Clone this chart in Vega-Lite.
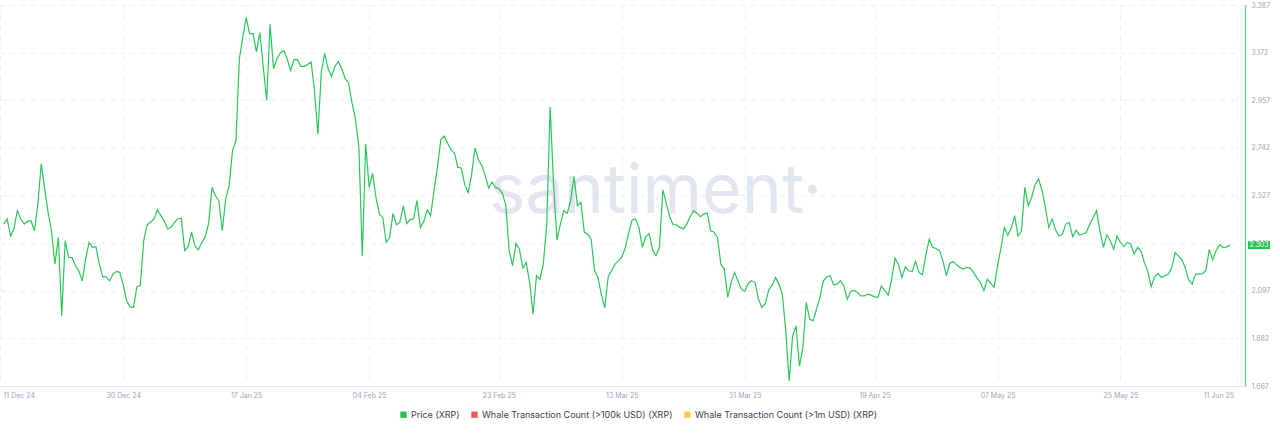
{
"$schema":"https://vega.github.io/schema/vega-lite/v6.json",
"width":1245,"height":381,
"autosize":{"type":"none"},
"padding":{"left":0,"top":5,"right":35,"bottom":47},
"background":"white",
"config":{"view":{"stroke":null},"font":"Inter"},
"datasets":{
"price":[
{"t":"2024-12-12T12:00Z","v":2.398},
{"t":"2024-12-13T00:00Z","v":2.421},{"t":"2024-12-13T12:00Z","v":2.345},
{"t":"2024-12-14T00:00Z","v":2.376},{"t":"2024-12-14T12:00Z","v":2.459},
{"t":"2024-12-15T00:00Z","v":2.421},{"t":"2024-12-15T12:00Z","v":2.398},
{"t":"2024-12-16T00:00Z","v":2.410},{"t":"2024-12-16T12:00Z","v":2.413},
{"t":"2024-12-17T00:00Z","v":2.368},{"t":"2024-12-17T12:00Z","v":2.489},
{"t":"2024-12-18T00:00Z","v":2.670},{"t":"2024-12-18T12:00Z","v":2.556},
{"t":"2024-12-19T00:00Z","v":2.451},{"t":"2024-12-19T12:00Z","v":2.368},
{"t":"2024-12-20T00:00Z","v":2.217},{"t":"2024-12-20T12:00Z","v":2.338},
{"t":"2024-12-21T00:00Z","v":1.984},{"t":"2024-12-21T12:00Z","v":2.323},
{"t":"2024-12-22T00:00Z","v":2.247},{"t":"2024-12-22T12:00Z","v":2.247},
{"t":"2024-12-23T00:00Z","v":2.210},{"t":"2024-12-23T12:00Z","v":2.187},
{"t":"2024-12-24T00:00Z","v":2.142},{"t":"2024-12-24T12:00Z","v":2.240},
{"t":"2024-12-25T00:00Z","v":2.315},{"t":"2024-12-25T12:00Z","v":2.293},
{"t":"2024-12-26T00:00Z","v":2.296},{"t":"2024-12-26T12:00Z","v":2.217},
{"t":"2024-12-27T00:00Z","v":2.160},{"t":"2024-12-27T12:00Z","v":2.160},
{"t":"2024-12-28T00:00Z","v":2.142},{"t":"2024-12-28T12:00Z","v":2.172},
{"t":"2024-12-29T00:00Z","v":2.184},{"t":"2024-12-29T12:00Z","v":2.180},
{"t":"2024-12-30T00:00Z","v":2.124},{"t":"2024-12-30T12:00Z","v":2.051},
{"t":"2024-12-31T00:00Z","v":2.024},{"t":"2024-12-31T12:00Z","v":2.021},
{"t":"2025-01-01T00:00Z","v":2.115},{"t":"2025-01-01T12:00Z","v":2.119},
{"t":"2025-01-02T00:00Z","v":2.323},{"t":"2025-01-02T12:00Z","v":2.395},
{"t":"2025-01-03T00:00Z","v":2.406},{"t":"2025-01-03T12:00Z","v":2.421},
{"t":"2025-01-04T00:00Z","v":2.463},{"t":"2025-01-04T12:00Z","v":2.436},
{"t":"2025-01-05T00:00Z","v":2.413},{"t":"2025-01-05T12:00Z","v":2.376},
{"t":"2025-01-06T00:00Z","v":2.383},{"t":"2025-01-06T12:00Z","v":2.406},
{"t":"2025-01-07T00:00Z","v":2.422},{"t":"2025-01-07T12:00Z","v":2.425},
{"t":"2025-01-08T00:00Z","v":2.278},{"t":"2025-01-08T12:00Z","v":2.296},
{"t":"2025-01-09T00:00Z","v":2.361},{"t":"2025-01-09T12:00Z","v":2.300},
{"t":"2025-01-10T00:00Z","v":2.281},{"t":"2025-01-10T12:00Z","v":2.315},
{"t":"2025-01-11T00:00Z","v":2.340},{"t":"2025-01-11T12:00Z","v":2.400},
{"t":"2025-01-12T00:00Z","v":2.564},{"t":"2025-01-12T12:00Z","v":2.526},
{"t":"2025-01-13T00:00Z","v":2.504},{"t":"2025-01-13T12:00Z","v":2.368},
{"t":"2025-01-14T00:00Z","v":2.511},{"t":"2025-01-14T12:00Z","v":2.572},
{"t":"2025-01-15T00:00Z","v":2.730},{"t":"2025-01-15T12:00Z","v":2.775},
{"t":"2025-01-16T00:00Z","v":3.144},{"t":"2025-01-16T12:00Z","v":3.242},
{"t":"2025-01-17T00:00Z","v":3.330},{"t":"2025-01-17T12:00Z","v":3.258},
{"t":"2025-01-18T00:00Z","v":3.258},{"t":"2025-01-18T12:00Z","v":3.175},
{"t":"2025-01-19T00:00Z","v":3.262},{"t":"2025-01-19T12:00Z","v":3.107},
{"t":"2025-01-20T00:00Z","v":2.956},{"t":"2025-01-20T12:00Z","v":3.300},
{"t":"2025-01-21T00:00Z","v":3.099},{"t":"2025-01-21T12:00Z","v":3.144},
{"t":"2025-01-22T00:00Z","v":3.170},{"t":"2025-01-22T12:00Z","v":3.182},
{"t":"2025-01-23T00:00Z","v":3.144},{"t":"2025-01-23T12:00Z","v":3.092},
{"t":"2025-01-24T00:00Z","v":3.140},{"t":"2025-01-24T12:00Z","v":3.140},
{"t":"2025-01-25T00:00Z","v":3.110},{"t":"2025-01-25T12:00Z","v":3.110},
{"t":"2025-01-26T00:00Z","v":3.119},{"t":"2025-01-26T12:00Z","v":3.129},
{"t":"2025-01-27T00:00Z","v":3.001},{"t":"2025-01-27T12:00Z","v":2.805},
{"t":"2025-01-28T00:00Z","v":3.084},{"t":"2025-01-28T12:00Z","v":3.167},
{"t":"2025-01-29T00:00Z","v":3.099},{"t":"2025-01-29T12:00Z","v":3.065},
{"t":"2025-01-30T00:00Z","v":3.110},{"t":"2025-01-30T12:00Z","v":3.132},
{"t":"2025-01-31T00:00Z","v":3.099},{"t":"2025-01-31T12:00Z","v":3.054},
{"t":"2025-02-01T00:00Z","v":3.034},{"t":"2025-02-01T12:00Z","v":2.944},
{"t":"2025-02-02T00:00Z","v":2.873},{"t":"2025-02-02T12:00Z","v":2.745},
{"t":"2025-02-03T00:00Z","v":2.255},{"t":"2025-02-03T12:00Z","v":2.760},
{"t":"2025-02-04T00:00Z","v":2.564},{"t":"2025-02-04T12:00Z","v":2.627},
{"t":"2025-02-05T00:00Z","v":2.519},{"t":"2025-02-05T12:00Z","v":2.443},
{"t":"2025-02-06T00:00Z","v":2.428},{"t":"2025-02-06T12:00Z","v":2.315},
{"t":"2025-02-07T00:00Z","v":2.338},{"t":"2025-02-07T12:00Z","v":2.446},
{"t":"2025-02-08T00:00Z","v":2.395},{"t":"2025-02-08T12:00Z","v":2.406},
{"t":"2025-02-09T00:00Z","v":2.480},{"t":"2025-02-09T12:00Z","v":2.400},
{"t":"2025-02-10T00:00Z","v":2.418},{"t":"2025-02-10T12:00Z","v":2.421},
{"t":"2025-02-11T00:00Z","v":2.504},{"t":"2025-02-11T12:00Z","v":2.383},
{"t":"2025-02-12T00:00Z","v":2.410},{"t":"2025-02-12T12:00Z","v":2.462},
{"t":"2025-02-13T00:00Z","v":2.436},{"t":"2025-02-13T12:00Z","v":2.549},
{"t":"2025-02-14T00:00Z","v":2.654},{"t":"2025-02-14T12:00Z","v":2.780},
{"t":"2025-02-15T00:00Z","v":2.795},{"t":"2025-02-15T12:00Z","v":2.763},
{"t":"2025-02-16T00:00Z","v":2.733},{"t":"2025-02-16T12:00Z","v":2.718},
{"t":"2025-02-17T00:00Z","v":2.654},{"t":"2025-02-17T12:00Z","v":2.651},
{"t":"2025-02-18T00:00Z","v":2.576},{"t":"2025-02-18T12:00Z","v":2.541},
{"t":"2025-02-19T00:00Z","v":2.621},{"t":"2025-02-19T12:00Z","v":2.742},
{"t":"2025-02-20T00:00Z","v":2.688},{"t":"2025-02-20T12:00Z","v":2.662},
{"t":"2025-02-21T00:00Z","v":2.617},{"t":"2025-02-21T12:00Z","v":2.561},
{"t":"2025-02-22T00:00Z","v":2.587},{"t":"2025-02-22T12:00Z","v":2.564},
{"t":"2025-02-23T00:00Z","v":2.557},{"t":"2025-02-23T12:00Z","v":2.537},
{"t":"2025-02-24T00:00Z","v":2.486},{"t":"2025-02-24T12:00Z","v":2.278},
{"t":"2025-02-25T00:00Z","v":2.210},{"t":"2025-02-25T12:00Z","v":2.311},
{"t":"2025-02-26T00:00Z","v":2.285},{"t":"2025-02-26T12:00Z","v":2.199},
{"t":"2025-02-27T00:00Z","v":2.225},{"t":"2025-02-27T12:00Z","v":2.134},
{"t":"2025-02-28T00:00Z","v":1.991},{"t":"2025-02-28T12:00Z","v":2.165},
{"t":"2025-03-01T00:00Z","v":2.149},{"t":"2025-03-01T12:00Z","v":2.217},
{"t":"2025-03-02T00:00Z","v":2.398},{"t":"2025-03-02T12:00Z","v":2.926},
{"t":"2025-03-03T00:00Z","v":2.579},{"t":"2025-03-03T12:00Z","v":2.326},
{"t":"2025-03-04T00:00Z","v":2.398},{"t":"2025-03-04T12:00Z","v":2.459},
{"t":"2025-03-05T00:00Z","v":2.446},{"t":"2025-03-05T12:00Z","v":2.504},
{"t":"2025-03-06T00:00Z","v":2.612},{"t":"2025-03-06T12:00Z","v":2.481},
{"t":"2025-03-07T00:00Z","v":2.496},{"t":"2025-03-07T12:00Z","v":2.361},
{"t":"2025-03-08T00:00Z","v":2.353},{"t":"2025-03-08T12:00Z","v":2.330},
{"t":"2025-03-09T00:00Z","v":2.187},{"t":"2025-03-09T12:00Z","v":2.157},
{"t":"2025-03-10T00:00Z","v":2.080},{"t":"2025-03-10T12:00Z","v":2.020},
{"t":"2025-03-11T00:00Z","v":2.160},{"t":"2025-03-11T12:00Z","v":2.187},
{"t":"2025-03-12T00:00Z","v":2.217},{"t":"2025-03-12T12:00Z","v":2.232},
{"t":"2025-03-13T00:00Z","v":2.250},{"t":"2025-03-13T12:00Z","v":2.290},
{"t":"2025-03-14T00:00Z","v":2.359},{"t":"2025-03-14T12:00Z","v":2.416},
{"t":"2025-03-15T00:00Z","v":2.421},{"t":"2025-03-15T12:00Z","v":2.383},
{"t":"2025-03-16T00:00Z","v":2.293},{"t":"2025-03-16T12:00Z","v":2.341},
{"t":"2025-03-17T00:00Z","v":2.356},{"t":"2025-03-17T12:00Z","v":2.281},
{"t":"2025-03-18T00:00Z","v":2.255},{"t":"2025-03-18T12:00Z","v":2.293},
{"t":"2025-03-19T00:00Z","v":2.552},{"t":"2025-03-19T12:00Z","v":2.493},
{"t":"2025-03-20T00:00Z","v":2.431},{"t":"2025-03-20T12:00Z","v":2.395},
{"t":"2025-03-21T00:00Z","v":2.395},{"t":"2025-03-21T12:00Z","v":2.383},
{"t":"2025-03-22T00:00Z","v":2.376},{"t":"2025-03-22T12:00Z","v":2.398},
{"t":"2025-03-23T00:00Z","v":2.431},{"t":"2025-03-23T12:00Z","v":2.459},
{"t":"2025-03-24T00:00Z","v":2.446},{"t":"2025-03-24T12:00Z","v":2.431},
{"t":"2025-03-25T00:00Z","v":2.443},{"t":"2025-03-25T12:00Z","v":2.448},
{"t":"2025-03-26T00:00Z","v":2.368},{"t":"2025-03-26T12:00Z","v":2.361},
{"t":"2025-03-27T00:00Z","v":2.338},{"t":"2025-03-27T12:00Z","v":2.217},
{"t":"2025-03-28T00:00Z","v":2.195},{"t":"2025-03-28T12:00Z","v":2.067},
{"t":"2025-03-29T00:00Z","v":2.134},{"t":"2025-03-29T12:00Z","v":2.180},
{"t":"2025-03-30T00:00Z","v":2.142},{"t":"2025-03-30T12:00Z","v":2.104},
{"t":"2025-03-31T00:00Z","v":2.094},{"t":"2025-03-31T12:00Z","v":2.130},
{"t":"2025-04-01T00:00Z","v":2.142},{"t":"2025-04-01T12:00Z","v":2.134},
{"t":"2025-04-02T00:00Z","v":2.059},{"t":"2025-04-02T12:00Z","v":2.021},
{"t":"2025-04-03T00:00Z","v":2.039},{"t":"2025-04-03T12:00Z","v":2.100},
{"t":"2025-04-04T00:00Z","v":2.122},{"t":"2025-04-04T12:00Z","v":2.157},
{"t":"2025-04-05T00:00Z","v":2.127},{"t":"2025-04-05T12:00Z","v":2.079},
{"t":"2025-04-06T00:00Z","v":1.916},{"t":"2025-04-06T12:00Z","v":1.690},
{"t":"2025-04-07T00:00Z","v":1.893},{"t":"2025-04-07T12:00Z","v":1.938},
{"t":"2025-04-08T00:00Z","v":1.757},{"t":"2025-04-08T12:00Z","v":1.840},
{"t":"2025-04-09T00:00Z","v":2.044},{"t":"2025-04-09T12:00Z","v":1.969},
{"t":"2025-04-10T00:00Z","v":1.961},{"t":"2025-04-10T12:00Z","v":2.014},
{"t":"2025-04-11T00:00Z","v":2.067},{"t":"2025-04-11T12:00Z","v":2.142},
{"t":"2025-04-12T00:00Z","v":2.160},{"t":"2025-04-12T12:00Z","v":2.165},
{"t":"2025-04-13T00:00Z","v":2.124},{"t":"2025-04-13T12:00Z","v":2.127},
{"t":"2025-04-14T00:00Z","v":2.142},{"t":"2025-04-14T12:00Z","v":2.119},
{"t":"2025-04-15T00:00Z","v":2.059},{"t":"2025-04-15T12:00Z","v":2.094},
{"t":"2025-04-16T00:00Z","v":2.100},{"t":"2025-04-16T12:00Z","v":2.089},
{"t":"2025-04-17T00:00Z","v":2.074},{"t":"2025-04-17T12:00Z","v":2.074},
{"t":"2025-04-18T00:00Z","v":2.082},{"t":"2025-04-18T12:00Z","v":2.077},
{"t":"2025-04-19T00:00Z","v":2.069},{"t":"2025-04-19T12:00Z","v":2.067},
{"t":"2025-04-20T00:00Z","v":2.119},{"t":"2025-04-20T12:00Z","v":2.097},
{"t":"2025-04-21T00:00Z","v":2.077},{"t":"2025-04-21T12:00Z","v":2.149},
{"t":"2025-04-22T00:00Z","v":2.244},{"t":"2025-04-22T12:00Z","v":2.214},
{"t":"2025-04-23T00:00Z","v":2.157},{"t":"2025-04-23T12:00Z","v":2.205},
{"t":"2025-04-24T00:00Z","v":2.187},{"t":"2025-04-24T12:00Z","v":2.184},
{"t":"2025-04-25T00:00Z","v":2.229},{"t":"2025-04-25T12:00Z","v":2.180},
{"t":"2025-04-26T00:00Z","v":2.168},{"t":"2025-04-26T12:00Z","v":2.258},
{"t":"2025-04-27T00:00Z","v":2.330},{"t":"2025-04-27T12:00Z","v":2.293},
{"t":"2025-04-28T00:00Z","v":2.288},{"t":"2025-04-28T12:00Z","v":2.278},
{"t":"2025-04-29T00:00Z","v":2.232},{"t":"2025-04-29T12:00Z","v":2.165},
{"t":"2025-04-30T00:00Z","v":2.220},{"t":"2025-04-30T12:00Z","v":2.229},
{"t":"2025-05-01T00:00Z","v":2.214},{"t":"2025-05-01T12:00Z","v":2.202},
{"t":"2025-05-02T00:00Z","v":2.195},{"t":"2025-05-02T12:00Z","v":2.202},
{"t":"2025-05-03T00:00Z","v":2.199},{"t":"2025-05-03T12:00Z","v":2.180},
{"t":"2025-05-04T00:00Z","v":2.154},{"t":"2025-05-04T12:00Z","v":2.134},
{"t":"2025-05-05T00:00Z","v":2.097},{"t":"2025-05-05T12:00Z","v":2.149},
{"t":"2025-05-06T00:00Z","v":2.130},{"t":"2025-05-06T12:00Z","v":2.112},
{"t":"2025-05-07T00:00Z","v":2.210},{"t":"2025-05-07T12:00Z","v":2.290},
{"t":"2025-05-08T00:00Z","v":2.383},{"t":"2025-05-08T12:00Z","v":2.347},
{"t":"2025-05-09T00:00Z","v":2.379},{"t":"2025-05-09T12:00Z","v":2.436},
{"t":"2025-05-10T00:00Z","v":2.345},{"t":"2025-05-10T12:00Z","v":2.365},
{"t":"2025-05-11T00:00Z","v":2.564},{"t":"2025-05-11T12:00Z","v":2.481},
{"t":"2025-05-12T00:00Z","v":2.519},{"t":"2025-05-12T12:00Z","v":2.576},
{"t":"2025-05-13T00:00Z","v":2.602},{"t":"2025-05-13T12:00Z","v":2.552},
{"t":"2025-05-14T00:00Z","v":2.474},{"t":"2025-05-14T12:00Z","v":2.383},
{"t":"2025-05-15T00:00Z","v":2.421},{"t":"2025-05-15T12:00Z","v":2.371},
{"t":"2025-05-16T00:00Z","v":2.343},{"t":"2025-05-16T12:00Z","v":2.353},
{"t":"2025-05-17T00:00Z","v":2.398},{"t":"2025-05-17T12:00Z","v":2.406},
{"t":"2025-05-18T00:00Z","v":2.341},{"t":"2025-05-18T12:00Z","v":2.371},
{"t":"2025-05-19T00:00Z","v":2.348},{"t":"2025-05-19T12:00Z","v":2.353},
{"t":"2025-05-20T00:00Z","v":2.360},{"t":"2025-05-20T12:00Z","v":2.398},
{"t":"2025-05-21T00:00Z","v":2.428},{"t":"2025-05-21T12:00Z","v":2.459},
{"t":"2025-05-22T00:00Z","v":2.365},{"t":"2025-05-22T12:00Z","v":2.293},
{"t":"2025-05-23T00:00Z","v":2.350},{"t":"2025-05-23T12:00Z","v":2.323},
{"t":"2025-05-24T00:00Z","v":2.285},{"t":"2025-05-24T12:00Z","v":2.343},
{"t":"2025-05-25T00:00Z","v":2.315},{"t":"2025-05-25T12:00Z","v":2.296},
{"t":"2025-05-26T00:00Z","v":2.315},{"t":"2025-05-26T12:00Z","v":2.308},
{"t":"2025-05-27T00:00Z","v":2.262},{"t":"2025-05-27T12:00Z","v":2.293},
{"t":"2025-05-28T00:00Z","v":2.275},{"t":"2025-05-28T12:00Z","v":2.225},
{"t":"2025-05-29T00:00Z","v":2.183},{"t":"2025-05-29T12:00Z","v":2.115},
{"t":"2025-05-30T00:00Z","v":2.160},{"t":"2025-05-30T12:00Z","v":2.175},
{"t":"2025-05-31T00:00Z","v":2.157},{"t":"2025-05-31T12:00Z","v":2.165},
{"t":"2025-06-01T00:00Z","v":2.172},{"t":"2025-06-01T12:00Z","v":2.199},
{"t":"2025-06-02T00:00Z","v":2.269},{"t":"2025-06-02T12:00Z","v":2.253},
{"t":"2025-06-03T00:00Z","v":2.238},{"t":"2025-06-03T12:00Z","v":2.199},
{"t":"2025-06-04T00:00Z","v":2.145},{"t":"2025-06-04T12:00Z","v":2.127},
{"t":"2025-06-05T00:00Z","v":2.172},{"t":"2025-06-05T12:00Z","v":2.172},
{"t":"2025-06-06T00:00Z","v":2.174},{"t":"2025-06-06T12:00Z","v":2.187},
{"t":"2025-06-07T00:00Z","v":2.284},{"t":"2025-06-07T12:00Z","v":2.237},
{"t":"2025-06-08T00:00Z","v":2.278},{"t":"2025-06-08T12:00Z","v":2.305},
{"t":"2025-06-09T00:00Z","v":2.293},{"t":"2025-06-09T12:00Z","v":2.294},
{"t":"2025-06-10T00:00Z","v":2.303}
],
"last":[{"v":2.303}],
"mark":[{"label":"santiment·"}]
},
"layer":[
{
"data":{"name":"mark"},
"mark":{"type":"text","fontSize":68,"color":"#e3e5f0","align":"center","baseline":"alphabetic","font":"Inter"},
"encoding":{
"x":{"datum":{"year":2025,"month":3,"date":18,"utc":true},"type":"temporal"},
"y":{"datum":2.449,"type":"quantitative"},
"text":{"field":"label"}
}
},
{
"data":{"name":"price"},
"mark":{"type":"line","color":"#2bc75a","strokeWidth":1.2,"interpolate":"linear"},
"encoding":{
"x":{"field":"t","type":"temporal",
"scale":{"type":"utc","domain":[{"year":2024,"month":12,"date":11,"hours":23,"utc":true},{"year":2025,"month":6,"date":12,"hours":5,"minutes":30,"utc":true}]},
"axis":{"title":null,"labelExpr":"utcFormat(datum.value, '%d %b %y')",
"values":[{"year":2024,"month":12,"date":11,"hours":23,"utc":true},{"year":2024,"month":12,"date":30,"utc":true},{"year":2025,"month":1,"date":17,"utc":true},{"year":2025,"month":2,"date":4,"utc":true},{"year":2025,"month":2,"date":23,"utc":true},{"year":2025,"month":3,"date":13,"utc":true},{"year":2025,"month":3,"date":31,"utc":true},{"year":2025,"month":4,"date":19,"utc":true},{"year":2025,"month":5,"date":7,"utc":true},{"year":2025,"month":5,"date":25,"utc":true},{"year":2025,"month":6,"date":11,"utc":true}],
"grid":true,"gridDash":[5,5],"gridColor":"#eceef5","gridWidth":1,
"domain":true,"domainColor":"#e3e5ee","ticks":false,
"labelColor":"#9ea3bd","labelFontSize":7,"labelPadding":5,"labelFont":"Inter",
"labelFlush":15,"labelFlushOffset":-3,"labelOverlap":false}
},
"y":{"field":"v","type":"quantitative",
"scale":{"domain":[1.667,3.387],"zero":false,"nice":false},
"axis":{"title":null,"orient":"right","values":[1.667,1.882,2.097,2.312,2.527,2.742,2.957,3.172,3.387],"format":".3f",
"grid":true,"gridDash":[5,5],"gridColor":"#eceef5","gridWidth":1,
"domain":true,"domainColor":"#5ad77c","domainWidth":1.2,"ticks":false,
"labelColor":"#9ea3bd","labelFontSize":7,"labelPadding":6,"labelFont":"Inter","labelBaseline":"middle"}
}
}
},
{
"data":{"name":"last"},
"mark":{"type":"point","filled":true,"opacity":1,"shape":"M-1,-0.36H1V0.36H-1Z","size":484,"xOffset":14,"strokeWidth":0},
"encoding":{
"x":{"datum":{"year":2025,"month":6,"date":12,"hours":5,"minutes":30,"utc":true},"type":"temporal"},
"y":{"field":"v","type":"quantitative"},
"color":{"datum":"Price (XRP)","type":"nominal",
"scale":{"domain":["Price (XRP)","Whale Transaction Count (>100k USD) (XRP)","Whale Transaction Count (>1m USD) (XRP)"],"range":["#26c24f","#f25757","#ffc940"]},
"legend":{"title":null,"orient":"none","legendX":399,"legendY":405,"direction":"horizontal","symbolType":"square","symbolSize":40,"symbolStrokeWidth":0,"labelFontSize":9,"labelColor":"#3d4052","labelFont":"Inter","labelOffset":3,"columnPadding":10,"labelLimit":400}
}
}
},
{
"data":{"name":"last"},
"mark":{"type":"text","color":"white","fontSize":7,"dx":14,"align":"center","baseline":"middle","font":"Inter"},
"encoding":{
"x":{"datum":{"year":2025,"month":6,"date":12,"hours":5,"minutes":30,"utc":true},"type":"temporal"},
"y":{"field":"v","type":"quantitative"},
"text":{"field":"v","type":"quantitative","format":".3f"}
}
}
]
}
